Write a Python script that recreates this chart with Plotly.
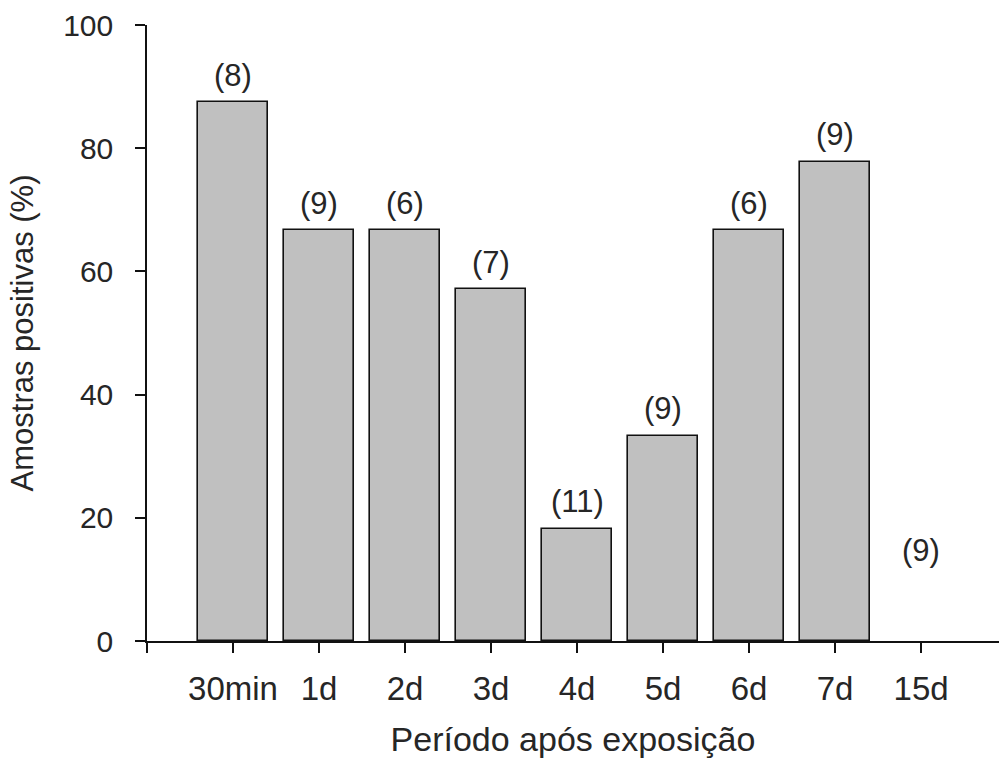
import plotly.graph_objects as go

categories = ["30min", "1d", "2d", "3d", "4d", "5d", "6d", "7d", "15d"]
percent_positive = [87.5, 66.7, 66.7, 57.1, 18.2, 33.3, 66.7, 77.8, 0.0]
n_samples = [8, 9, 6, 7, 11, 9, 6, 9, 9]
y_ticks = [0, 20, 40, 60, 80, 100]

positions = list(range(len(categories)))

fig = go.Figure()
fig.add_trace(go.Bar(
    x=positions, y=percent_positive, width=0.82,
    marker=dict(color="#c0c0c0",
                line=dict(color="#111111", width=[1.6 if v > 0 else 0 for v in percent_positive])),
    hoverinfo="skip",
))

font_family = "Liberation Sans, Arial, sans-serif"
text_color = "#262626"
for p, v, n in zip(positions, percent_positive, n_samples):
    fig.add_annotation(
        x=p, y=v, xref="x", yref="y", text=f"({n})", showarrow=False,
        yshift=27 if v > 0 else 91, yanchor="middle",
        font=dict(family=font_family, size=31, color=text_color),
    )

fig.update_layout(
    width=999, height=765,
    margin=dict(l=147, r=0, t=25, b=124),
    paper_bgcolor="white", plot_bgcolor="white",
    showlegend=False, bargap=0,
    font=dict(family=font_family, color=text_color),
)
fig.update_xaxes(
    range=[-1, 8.906], tickmode="array",
    tickvals=[-1] + positions, ticktext=[""] + categories,
    ticks="outside", ticklen=10, tickwidth=1.5, tickcolor="#111111",
    showline=True, linecolor="#111111", linewidth=1.5,
    showgrid=False, zeroline=False,
    tickfont=dict(size=33, family=font_family, color=text_color),
    ticklabelstandoff=8,
    title=dict(text="Período após exposição", font=dict(size=34, family=font_family, color=text_color), standoff=21),
)
fig.update_yaxes(
    range=[0, 100], tickvals=y_ticks,
    ticks="outside", ticklen=10, tickwidth=1.5, tickcolor="#111111",
    showline=True, linecolor="#111111", linewidth=1.5,
    showgrid=False, zeroline=False,
    tickfont=dict(size=30, family=font_family, color=text_color),
    ticklabelstandoff=16,
    title=dict(text="Amostras positivas (%)", font=dict(size=31, family=font_family, color=text_color), standoff=20),
)

fig.write_html("out.html")
